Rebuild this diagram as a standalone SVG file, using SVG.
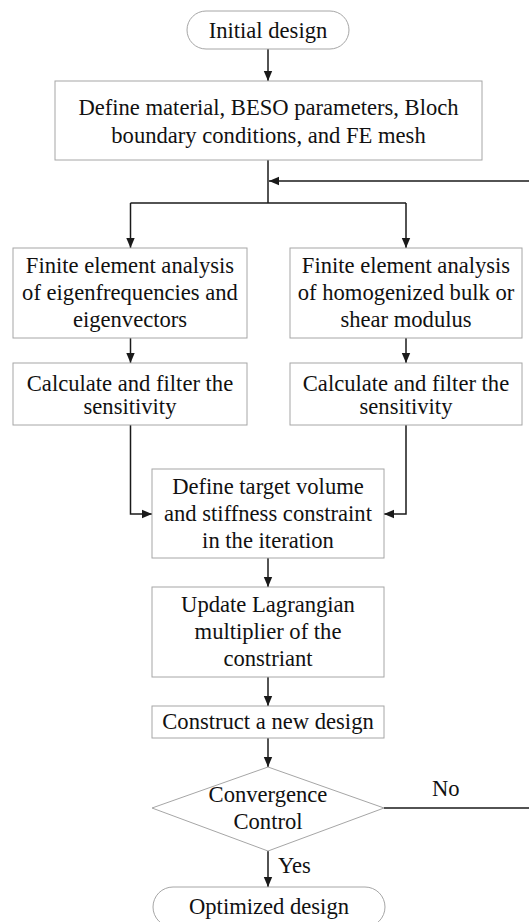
<svg xmlns="http://www.w3.org/2000/svg" width="529" height="922" viewBox="0 0 529 922">
<style>
.box{fill:#fff;stroke:#a6a6a6;stroke-width:1}
.t{font-family:"Liberation Serif","Times New Roman",serif;font-size:22.6px;fill:#111;text-anchor:middle}
.tl{font-family:"Liberation Serif","Times New Roman",serif;font-size:22.6px;fill:#111}
.c{fill:none;stroke:#1a1a1a;stroke-width:1.5}
</style>
<defs>
<marker id="ah" markerUnits="userSpaceOnUse" markerWidth="10" markerHeight="10" viewBox="0 0 10 10" refX="10" refY="5" orient="auto">
<path d="M0,0.8 L10,5 L0,9.2 Z" fill="#1a1a1a"/>
</marker>
</defs>
<rect width="529" height="922" fill="#fff"/>
<g id="connectors">
<line class="c" x1="268" y1="49" x2="268" y2="81" marker-end="url(#ah)"/>
<line class="c" x1="268" y1="160" x2="268" y2="203"/>
<line class="c" x1="529" y1="181" x2="269" y2="181" marker-end="url(#ah)"/>
<line class="c" x1="130.5" y1="203" x2="406" y2="203"/>
<line class="c" x1="130.5" y1="203" x2="130.5" y2="248" marker-end="url(#ah)"/>
<line class="c" x1="406" y1="203" x2="406" y2="248" marker-end="url(#ah)"/>
<line class="c" x1="130.5" y1="338" x2="130.5" y2="363" marker-end="url(#ah)"/>
<line class="c" x1="406" y1="338" x2="406" y2="363" marker-end="url(#ah)"/>
<polyline class="c" points="130.5,425 130.5,514 152,514" marker-end="url(#ah)"/>
<polyline class="c" points="406,425 406,514 384,514" marker-end="url(#ah)"/>
<line class="c" x1="268" y1="558" x2="268" y2="587" marker-end="url(#ah)"/>
<line class="c" x1="268" y1="677" x2="268" y2="706" marker-end="url(#ah)"/>
<line class="c" x1="268" y1="738" x2="268" y2="767" marker-end="url(#ah)"/>
<line class="c" x1="268" y1="851" x2="268" y2="887" marker-end="url(#ah)"/>
<line class="c" x1="384" y1="808" x2="529" y2="808"/>
<text class="tl" x="432" y="796">No</text>
<text class="tl" x="278" y="873">Yes</text>
</g>
<g id="initial">
<rect class="box" x="187" y="11" width="162" height="38" rx="19"/>
<text class="t" x="268" y="38">Initial design</text>
</g>
<g id="define">
<rect class="box" x="55" y="81" width="427" height="79"/>
<text class="t" x="268.5" y="114.5">Define material, BESO parameters, Bloch</text>
<text class="t" x="268.5" y="143">boundary conditions, and FE mesh</text>
</g>
<g id="fea-eigen">
<rect class="box" x="13" y="248" width="234" height="90"/>
<text class="t" x="130" y="273">Finite element analysis</text>
<text class="t" x="130" y="300">of eigenfrequencies and</text>
<text class="t" x="130" y="327">eigenvectors</text>
</g>
<g id="fea-homog">
<rect class="box" x="290" y="248" width="232" height="90"/>
<text class="t" x="406" y="273">Finite element analysis</text>
<text class="t" x="406" y="300">of homogenized bulk or</text>
<text class="t" x="406" y="327">shear modulus</text>
</g>
<g id="sens-left">
<rect class="box" x="13" y="363" width="234" height="62"/>
<text class="t" x="130" y="391">Calculate and filter the</text>
<text class="t" x="130" y="414">sensitivity</text>
</g>
<g id="sens-right">
<rect class="box" x="290" y="363" width="232" height="62"/>
<text class="t" x="406" y="391">Calculate and filter the</text>
<text class="t" x="406" y="414">sensitivity</text>
</g>
<g id="target">
<rect class="box" x="152" y="469" width="232" height="89"/>
<text class="t" x="268" y="494">Define target volume</text>
<text class="t" x="268" y="521">and stiffness constraint</text>
<text class="t" x="268" y="548">in the iteration</text>
</g>
<g id="update">
<rect class="box" x="152" y="587" width="232" height="90"/>
<text class="t" x="268" y="612">Update Lagrangian</text>
<text class="t" x="268" y="639">multiplier of the</text>
<text class="t" x="268" y="666">constriant</text>
</g>
<g id="construct">
<rect class="box" x="152" y="706" width="232" height="32"/>
<text class="t" x="268" y="729">Construct a new design</text>
</g>
<g id="convergence">
<polygon class="box" points="268,767 384,808 268,851 152,808"/>
<text class="t" x="268" y="802">Convergence</text>
<text class="t" x="268" y="829">Control</text>
</g>
<g id="optimized">
<rect class="box" x="153" y="887" width="232" height="40" rx="20"/>
<text class="t" x="269" y="914">Optimized design</text>
</g>
</svg>
